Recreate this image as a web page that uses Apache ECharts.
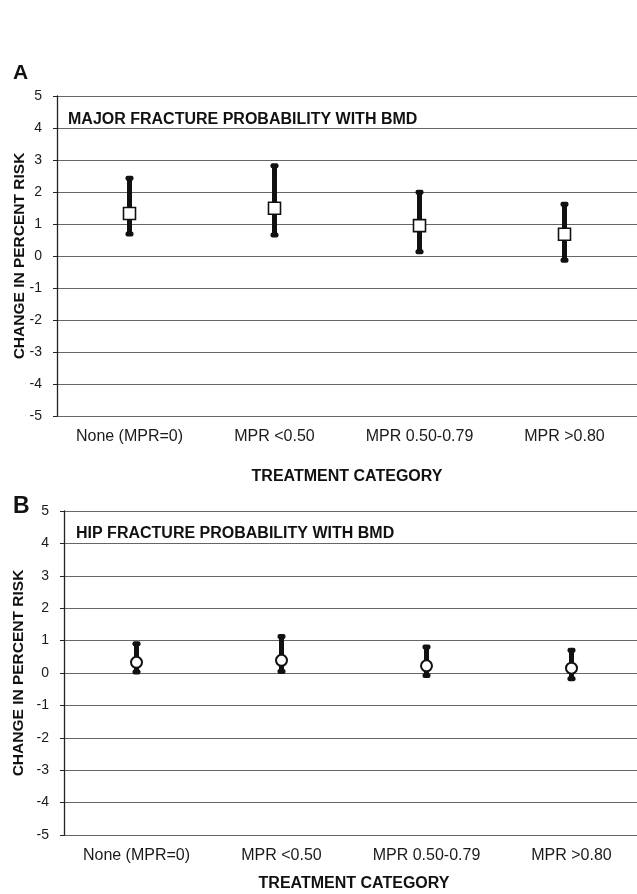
<!DOCTYPE html>
<html><head><meta charset="utf-8">
<script src="https://cdn.jsdelivr.net/npm/echarts@6/dist/echarts.min.js"></script>
<style>html,body{margin:0;padding:0;background:#fff}#c{width:637px;height:894px}</style>
</head><body><div id="c"></div>
<script>
const categories = ['None (MPR=0)', 'MPR <0.50', 'MPR 0.50-0.79', 'MPR >0.80'];
const yTicks = [-5, -4, -3, -2, -1, 0, 1, 2, 3, 4, 5];
const majorMid = [1.33, 1.49, 0.95, 0.68];
const majorLow = [0.69, 0.66, 0.13, -0.13];
const majorHigh = [2.43, 2.82, 1.99, 1.62];
const hipMid = [0.33, 0.39, 0.22, 0.15];
const hipLow = [0.03, 0.05, -0.08, -0.18];
const hipHigh = [0.9, 1.13, 0.8, 0.7];

const FONT = 'Liberation Sans, Arial, sans-serif';
const chart = echarts.init(document.getElementById('c'));

function errData(low, high) { return categories.map((c, i) => [i, low[i], high[i]]); }
function errSeries(idx, low, high) {
  return {
    type: 'custom', xAxisIndex: idx, yAxisIndex: idx, z: 3,
    data: errData(low, high),
    encode: { x: 0, y: [1, 2] },
    renderItem: function (params, api) {
      const p1 = api.coord([api.value(0), api.value(1)]);
      const p2 = api.coord([api.value(0), api.value(2)]);
      return { type: 'group', children: [
        { type: 'line', shape: { x1: p1[0], y1: p1[1], x2: p2[0], y2: p2[1] }, style: { stroke: '#111', lineWidth: 5 } },
        { type: 'rect', shape: { x: p1[0] - 4, y: p1[1] - 2.5, width: 8, height: 5, r: 2 }, style: { fill: '#111' } },
        { type: 'rect', shape: { x: p2[0] - 4, y: p2[1] - 2.5, width: 8, height: 5, r: 2 }, style: { fill: '#111' } }
      ] };
    }
  };
}
function xAx(idx, gap) {
  return {
    type: 'category', gridIndex: idx, data: categories, boundaryGap: true,
    axisLine: { show: false }, axisTick: { show: false },
    axisLabel: { color: '#1a1a1a', fontSize: 16, fontFamily: FONT, margin: 13 },
    name: 'TREATMENT CATEGORY', nameLocation: 'middle', nameGap: gap, nameMoveOverlap: false,
    nameTextStyle: { color: '#111', fontSize: 16, fontWeight: 'bold', fontFamily: FONT }
  };
}
function yAx(idx, gap) {
  return {
    type: 'value', gridIndex: idx, min: yTicks[0], max: yTicks[yTicks.length - 1], interval: 1,
    axisLine: { show: true, lineStyle: { color: '#222', width: 1.3 } },
    axisTick: { show: true, length: 4, lineStyle: { color: '#222' } },
    axisLabel: { color: '#1a1a1a', fontSize: 14, fontFamily: FONT, margin: 15 },
    splitLine: { show: true, lineStyle: { color: '#666', width: 1 } },
    name: 'CHANGE IN PERCENT RISK', nameLocation: 'middle', nameGap: gap, nameRotate: 90, nameMoveOverlap: false,
    nameTextStyle: { color: '#111', fontSize: 15.5, fontWeight: 'bold', fontFamily: FONT }
  };
}

chart.setOption({
  animation: false,
  backgroundColor: '#fff',
  title: [
    { text: 'A', left: 8, top: 58, textStyle: { fontSize: 21, fontWeight: 'bold', fontFamily: FONT, color: '#111' } },
    { text: 'MAJOR FRACTURE PROBABILITY WITH BMD', left: 63, top: 107, textStyle: { fontSize: 16, fontWeight: 'bold', fontFamily: FONT, color: '#111' } },
    { text: 'B', left: 8, top: 490, textStyle: { fontSize: 23, fontWeight: 'bold', fontFamily: FONT, color: '#111' } },
    { text: 'HIP FRACTURE PROBABILITY WITH BMD', left: 71, top: 521, textStyle: { fontSize: 16, fontWeight: 'bold', fontFamily: FONT, color: '#111' } }
  ],
  grid: [
    { left: 57, top: 96, width: 580, height: 320, outerBoundsMode: 'none', containLabel: false },
    { left: 64, top: 511, width: 580, height: 324, outerBoundsMode: 'none', containLabel: false }
  ],
  xAxis: [xAx(0, 53), xAx(1, 41)],
  yAxis: [yAx(0, 29.5), yAx(1, 37)],
  series: [
    errSeries(0, majorLow, majorHigh),
    { type: 'scatter', xAxisIndex: 0, yAxisIndex: 0, z: 4, symbol: 'rect', symbolSize: 12,
      itemStyle: { color: '#fff', borderColor: '#111', borderWidth: 1.6, opacity: 1 }, data: majorMid },
    errSeries(1, hipLow, hipHigh),
    { type: 'scatter', xAxisIndex: 1, yAxisIndex: 1, z: 4, symbol: 'circle', symbolSize: 11,
      itemStyle: { color: '#fff', borderColor: '#111', borderWidth: 2, opacity: 1 }, data: hipMid }
  ]
});
</script></body></html>
